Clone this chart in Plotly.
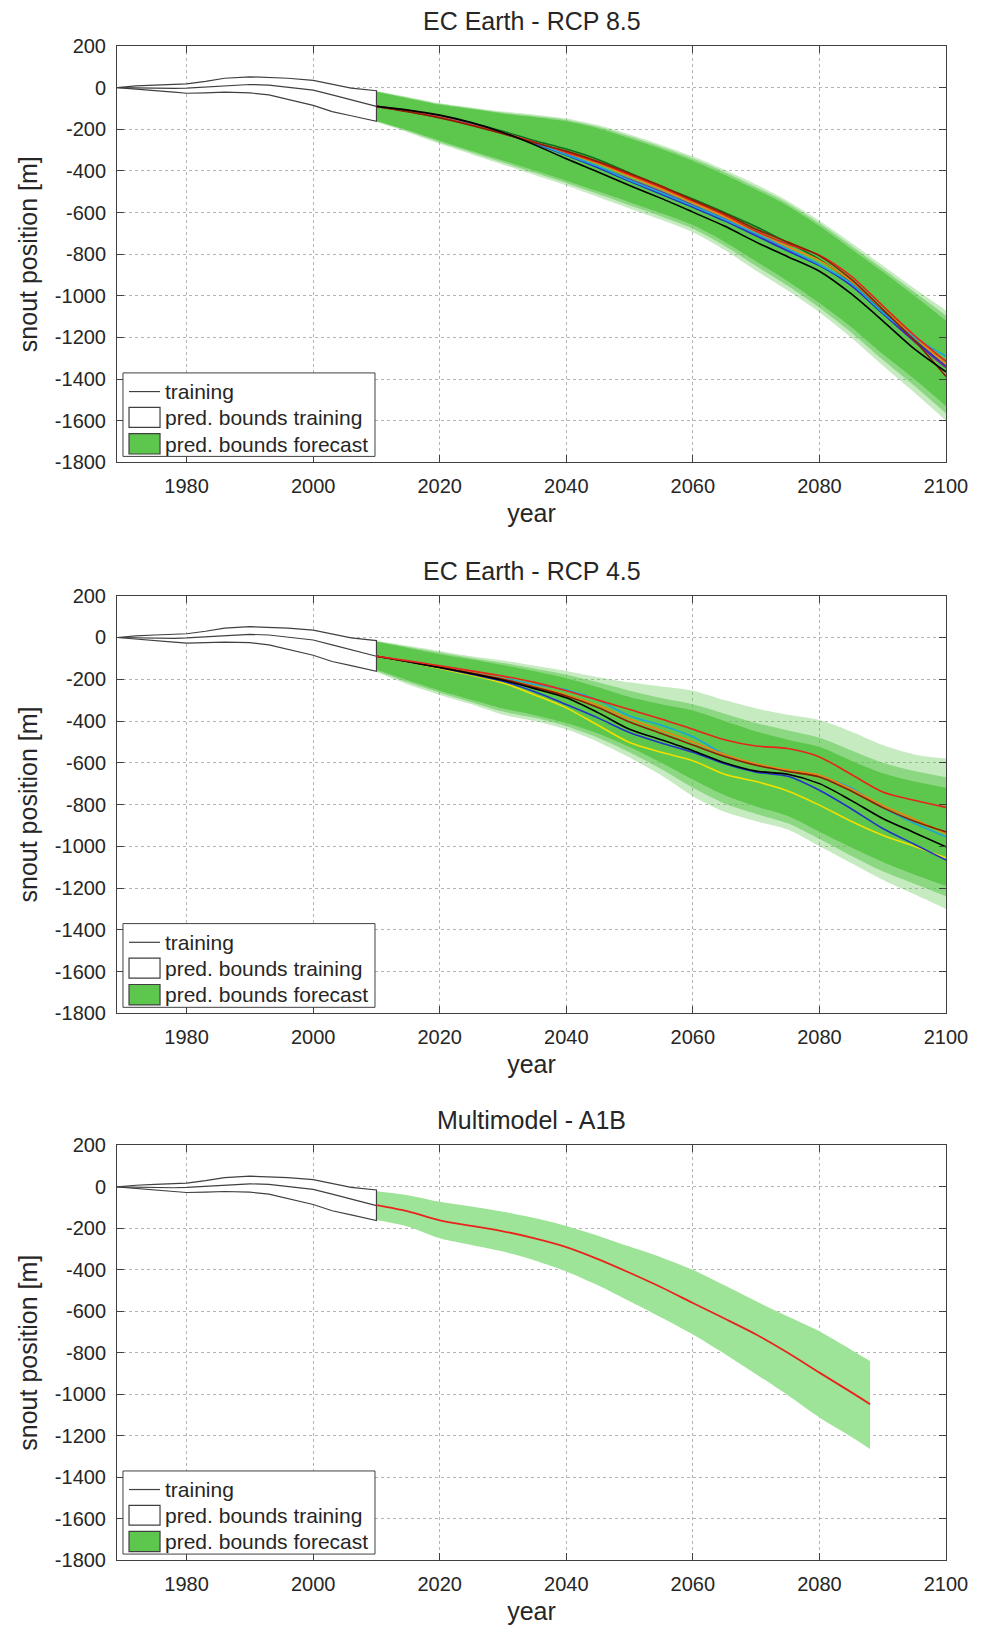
import plotly.graph_objects as go

# ---------------- data ----------------
TRAIN_YEARS = [1969, 1972, 1975, 1978, 1980, 1983, 1986, 1990, 1993, 1996, 2000, 2003, 2006, 2010]
TRAIN_CENTER = [0, -2, -3, -4, -2, 3, 10, 15, 12, 3, -12, -35, -60, -90]
TRAIN_UPPER = [0, 8, 12, 15, 18, 30, 45, 52, 50, 45, 35, 15, -2, -15]
TRAIN_LOWER = [0, -8, -15, -22, -27, -25, -22, -25, -35, -55, -85, -115, -135, -162]

FC_YEARS = [2010, 2015, 2020, 2025, 2030, 2035, 2040, 2045, 2050, 2055,
            2060, 2065, 2070, 2075, 2080, 2085, 2090, 2095, 2100]

# RCP 8.5 prediction bounds (outer / mid / core)
R85_OUTER_UP = [-16, -45, -75, -95, -115, -130, -148, -180, -225, -275, -330, -395, -465, -545, -640, -745, -855, -965, -1070]
R85_OUTER_LO = [-165, -215, -270, -320, -370, -420, -470, -525, -580, -635, -695, -780, -880, -975, -1080, -1200, -1335, -1465, -1600]
R85_MID_UP = [-18, -48, -78, -99, -120, -136, -155, -188, -234, -285, -341, -406, -478, -556, -652, -760, -870, -982, -1095]
R85_MID_LO = [-162, -210, -262, -311, -360, -409, -458, -511, -565, -619, -677, -760, -857, -952, -1057, -1175, -1307, -1432, -1565]
R85_CORE_UP = [-20, -52, -82, -103, -125, -142, -162, -196, -243, -295, -352, -418, -490, -568, -665, -775, -885, -1000, -1120]
R85_CORE_LO = [-160, -205, -255, -303, -350, -398, -447, -498, -550, -603, -660, -740, -835, -930, -1035, -1150, -1280, -1400, -1530]

R85_BLACK = [-90, -108, -132, -168, -215, -275, -342, -405, -470, -532, -598, -665, -742, -812, -882, -990, -1120, -1255, -1365]
R85_RED = [-90, -114, -142, -178, -218, -262, -310, -360, -418, -478, -545, -612, -690, -752, -805, -905, -1048, -1190, -1315]
R85_DARKRED = [-90, -116, -146, -182, -222, -265, -305, -355, -412, -472, -540, -605, -680, -742, -808, -920, -1065, -1215, -1388]
R85_ORANGE = [-90, -113, -141, -177, -217, -263, -312, -365, -425, -487, -553, -620, -700, -765, -830, -930, -1065, -1200, -1330]
R85_GREEN = [-90, -110, -137, -170, -210, -255, -295, -345, -410, -475, -535, -600, -668, -745, -825, -935, -1075, -1210, -1340]
R85_BLUE = [-90, -112, -140, -175, -218, -268, -325, -385, -450, -512, -575, -640, -712, -785, -855, -950, -1085, -1215, -1335]
R85_CYAN = [-90, -113, -141, -176, -217, -265, -322, -378, -445, -505, -568, -632, -702, -775, -850, -940, -1080, -1200, -1290]
R85_PURPLE = [-90, -114, -143, -178, -220, -268, -320, -380, -440, -500, -565, -630, -705, -780, -850, -950, -1085, -1220, -1345]

# RCP 4.5 prediction bounds (outer / mid / core)
R45_OUTER_UP = [-16, -40, -65, -90, -110, -135, -160, -190, -215, -235, -255, -300, -340, -370, -395, -450, -515, -560, -580]
R45_OUTER_LO = [-165, -225, -275, -320, -370, -400, -440, -500, -575, -660, -760, -835, -880, -920, -1000, -1080, -1160, -1230, -1300]
R45_MID_UP = [-18, -45, -72, -98, -122, -150, -178, -215, -255, -290, -320, -365, -410, -445, -480, -540, -600, -640, -670]
R45_MID_LO = [-160, -215, -265, -310, -355, -385, -425, -480, -550, -630, -720, -795, -845, -890, -965, -1045, -1120, -1180, -1240]
R45_CORE_UP = [-20, -50, -80, -105, -132, -162, -195, -238, -285, -320, -350, -400, -450, -490, -525, -590, -650, -690, -720]
R45_CORE_LO = [-155, -205, -255, -298, -340, -372, -410, -460, -525, -600, -680, -755, -810, -855, -930, -1005, -1075, -1135, -1190]

R45_RED = [-90, -112, -135, -160, -185, -215, -255, -300, -345, -390, -440, -490, -520, -532, -572, -655, -740, -780, -814]
R45_CYAN = [-90, -114, -140, -168, -195, -225, -250, -300, -376, -420, -475, -560, -610, -640, -665, -720, -815, -890, -955]
R45_ORANGE = [-90, -114, -140, -168, -198, -235, -275, -325, -390, -445, -500, -560, -605, -635, -660, -725, -805, -870, -940]
R45_DARKRED = [-90, -115, -142, -170, -200, -238, -280, -335, -405, -460, -515, -570, -612, -642, -668, -735, -815, -880, -931]
R45_BLACK = [-90, -116, -144, -173, -205, -245, -289, -360, -440, -490, -542, -600, -640, -655, -700, -780, -867, -935, -1003]
R45_BLUE = [-90, -116, -145, -176, -210, -260, -321, -385, -455, -505, -550, -605, -645, -665, -732, -820, -915, -990, -1066]
R45_YELLOW = [-90, -117, -148, -180, -218, -275, -337, -420, -503, -550, -590, -655, -690, -735, -803, -880, -947, -1000, -1055]

# Multimodel A1B
A1B_YEARS = [2010, 2015, 2020, 2025, 2030, 2035, 2040, 2045, 2050, 2055, 2060, 2065, 2070, 2075, 2080, 2085, 2088]
A1B_UP = [-21, -40, -72, -95, -120, -150, -188, -235, -288, -340, -400, -475, -552, -625, -696, -785, -840]
A1B_LO = [-160, -192, -248, -280, -312, -355, -408, -475, -552, -630, -712, -805, -904, -1005, -1112, -1205, -1264]
A1B_RED = [-88, -118, -162, -188, -214, -248, -290, -348, -414, -484, -560, -635, -712, -800, -896, -990, -1048]

X_TICKS = [1980, 2000, 2020, 2040, 2060, 2080, 2100]
X_TICK_LABELS = ["1980", "2000", "2020", "2040", "2060", "2080", "2100"]
Y_TICKS = [200, 0, -200, -400, -600, -800, -1000, -1200, -1400, -1600, -1800]
Y_TICK_LABELS = ["200", "0", "-200", "-400", "-600", "-800", "-1000", "-1200", "-1400", "-1600", "-1800"]

TITLES = ["EC Earth - RCP 8.5", "EC Earth - RCP 4.5", "Multimodel - A1B"]
LEGEND_LABELS = ["training", "pred. bounds training", "pred. bounds forecast"]

# ---------------- style ----------------
FONT = "Liberation Sans, Arial, sans-serif"
TXT = "#262626"
GREEN = "rgb(93,198,76)"
GREEN_LIGHT = "rgba(93,198,76,0.35)"
GREEN_MID = "rgba(93,198,76,0.55)"
A1B_GREEN = "rgb(158,228,152)"
GRAY_LINE = "#404040"
FRAME = "#404040"

COL = {
    "black": "#000000", "red": "#e8241c", "darkred": "#8b2000", "orange": "#f08010",
    "green": "#0a6e1c", "blue": "#2233c8", "cyan": "#1ca4d8", "purple": "#7a2f9e",
    "yellow": "#f0e000",
}

fig = go.Figure()

domains = [[0.7250, 1.0], [0.3611, 0.6369], [0.0, 0.2738]]


def band(years, up, lo, color, xa, ya):
    fig.add_trace(go.Scatter(x=years, y=lo, mode="lines", line=dict(width=0, shape="spline", smoothing=0.8),
                             hoverinfo="skip", showlegend=False, xaxis=xa, yaxis=ya))
    fig.add_trace(go.Scatter(x=years, y=up, mode="lines", line=dict(width=0, shape="spline", smoothing=0.8),
                             fill="tonexty", fillcolor=color,
                             hoverinfo="skip", showlegend=False, xaxis=xa, yaxis=ya))


def line(years, vals, color, xa, ya, width=1.6, shape="spline"):
    fig.add_trace(go.Scatter(x=years, y=vals, mode="lines",
                             line=dict(color=color, width=width, shape=shape, smoothing=0.8),
                             showlegend=False, xaxis=xa, yaxis=ya))


for i in range(3):
    xa = "x" if i == 0 else f"x{i+1}"
    ya = "y" if i == 0 else f"y{i+1}"

    # forecast bands
    if i == 0:
        band(FC_YEARS, R85_OUTER_UP, R85_OUTER_LO, GREEN_LIGHT, xa, ya)
        band(FC_YEARS, R85_MID_UP, R85_MID_LO, GREEN_MID, xa, ya)
        band(FC_YEARS, R85_CORE_UP, R85_CORE_LO, GREEN, xa, ya)
    elif i == 1:
        band(FC_YEARS, R45_OUTER_UP, R45_OUTER_LO, GREEN_LIGHT, xa, ya)
        band(FC_YEARS, R45_MID_UP, R45_MID_LO, GREEN_MID, xa, ya)
        band(FC_YEARS, R45_CORE_UP, R45_CORE_LO, GREEN, xa, ya)
    else:
        band(A1B_YEARS, A1B_UP, A1B_LO, A1B_GREEN, xa, ya)

    # training bounds polygon
    fig.add_trace(go.Scatter(
        x=TRAIN_YEARS + TRAIN_YEARS[::-1], y=TRAIN_UPPER + TRAIN_LOWER[::-1],
        fill="toself", fillcolor="white", mode="lines",
        line=dict(color=GRAY_LINE, width=1.2), showlegend=False,
        hoverinfo="skip", xaxis=xa, yaxis=ya))
    # training line
    line(TRAIN_YEARS, TRAIN_CENTER, GRAY_LINE, xa, ya, width=1.2, shape="linear")

    # member lines
    if i == 0:
        for vals, c in [(R85_GREEN, "green"), (R85_PURPLE, "purple"), (R85_BLUE, "blue"),
                        (R85_ORANGE, "orange"), (R85_CYAN, "cyan"), (R85_RED, "red"),
                        (R85_DARKRED, "darkred"), (R85_BLACK, "black")]:
            line(FC_YEARS, vals, COL[c], xa, ya)
    elif i == 1:
        for vals, c in [(R45_YELLOW, "yellow"), (R45_BLUE, "blue"), (R45_CYAN, "cyan"),
                        (R45_ORANGE, "orange"), (R45_DARKRED, "darkred"), (R45_BLACK, "black"),
                        (R45_RED, "red")]:
            line(FC_YEARS, vals, COL[c], xa, ya)
    else:
        line(A1B_YEARS, A1B_RED, COL["red"], xa, ya, width=1.8)

    axis_common = dict(showline=True, linecolor=FRAME, linewidth=1, mirror="ticks",
                       ticks="inside", ticklen=7, tickcolor=FRAME,
                       showgrid=True, gridcolor="#b4b4b4", griddash="dot", gridwidth=1,
                       zeroline=False, tickfont=dict(family=FONT, size=20, color=TXT),
                       ticklabelstandoff=6)
    xkey = "xaxis" if i == 0 else f"xaxis{i+1}"
    ykey = "yaxis" if i == 0 else f"yaxis{i+1}"
    fig.update_layout(**{
        xkey: dict(axis_common, domain=[0, 1], anchor=ya, range=[1969, 2100],
                   tickvals=X_TICKS, ticktext=X_TICK_LABELS,
                   title=dict(text="year", font=dict(family=FONT, size=25, color=TXT), standoff=8)),
        ykey: dict(axis_common, domain=domains[i], anchor=xa, range=[-1800, 200],
                   tickvals=Y_TICKS, ticktext=Y_TICK_LABELS,
                   title=dict(text="snout position [m]", font=dict(family=FONT, size=25, color=TXT), standoff=10)),
    })
    fig.add_annotation(text=TITLES[i], x=0.5, xref="paper", y=domains[i][1], yref="paper",
                       yanchor="middle", yshift=25, showarrow=False,
                       font=dict(family=FONT, size=25, color=TXT))

    # ---- legend box (drawn in axis-domain coordinates) ----
    xd = f"{xa} domain"
    yd = f"{ya} domain"
    fig.add_shape(type="rect", xref=xd, yref=yd, x0=0.0072, x1=0.3112, y0=0.0143, y1=0.2148,
                  fillcolor="white", line=dict(color=FRAME, width=1))
    fig.add_shape(type="line", xref=xd, yref=yd, x0=0.0145, x1=0.0519, y0=0.1700, y1=0.1700,
                  line=dict(color=GRAY_LINE, width=1.2))
    fig.add_shape(type="rect", xref=xd, yref=yd, x0=0.0145, x1=0.0519, y0=0.0840, y1=0.1320,
                  fillcolor="white", line=dict(color=GRAY_LINE, width=1.2))
    fig.add_shape(type="rect", xref=xd, yref=yd, x0=0.0145, x1=0.0519, y0=0.0200, y1=0.0690,
                  fillcolor=GREEN, line=dict(color=GRAY_LINE, width=1.2))
    for lbl, yy in zip(LEGEND_LABELS, [0.1700, 0.1080, 0.0440]):
        fig.add_annotation(text=lbl, xref=xd, yref=yd, x=0.0555, y=yy, xanchor="left",
                           yanchor="middle", showarrow=False,
                           font=dict(family=FONT, size=21, color=TXT))

fig.update_layout(width=987, height=1633, margin=dict(l=117, r=41, t=46, b=62),
                  plot_bgcolor="white", paper_bgcolor="white", showlegend=False,
                  font=dict(family=FONT, color=TXT))

fig.write_html("out.html")
